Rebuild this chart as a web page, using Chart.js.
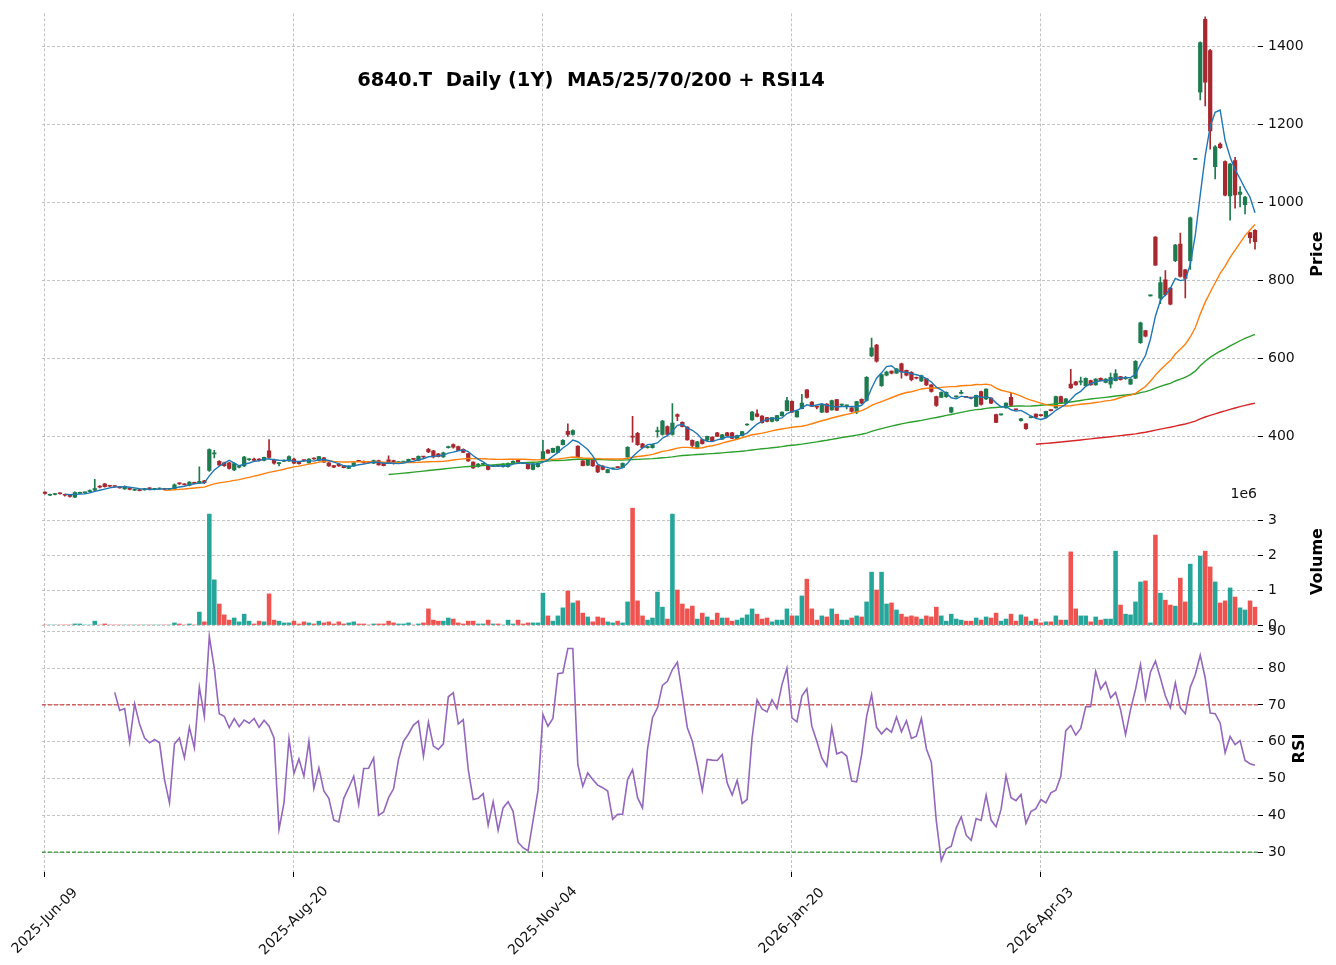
<!DOCTYPE html>
<html><head><meta charset="utf-8">
<script src="https://cdn.jsdelivr.net/npm/chart.js@4.4.1/dist/chart.umd.min.js"></script>
<style>
html,body{margin:0;padding:0;background:#fff;}
#wrap{position:relative;width:1336px;height:965px;background:#fff;}
canvas{position:absolute;left:0;top:0;}
</style></head><body>
<div id="wrap">
<canvas id="cPrice" width="1336" height="965"></canvas>
<canvas id="cVol" width="1336" height="965"></canvas>
<canvas id="cRsi" width="1336" height="965"></canvas>
</div>
<script>
// ---------- DATA ----------
const tickIndex  = [0, 50, 100, 150, 200];
const tickLabels = ['2025-Jun-09', '2025-Aug-20', '2025-Nov-04', '2026-Jan-20', '2026-Apr-03'];
const priceTicks = [400, 600, 800, 1000, 1200, 1400];
const volTicks   = [0, 1, 2, 3];            // x 1e6
const rsiTicks   = [30, 40, 50, 60, 70, 80, 90];

const opens = [
257,249,251,254,251,248,244,254,255,258, 262,272,278,272.5,272,270,265,266,262,263,
263,268,264,265,266,264,266,280,278,274, 282,280,286,313,355,336,332,332,314,321,
324,340,342,341,338,363,340,330,336,337, 342,334,338.5,332,343,338,345,332,325,329,
325,318,324,337,336,333.5,331,338,331,340, 338,333,334,334,342,338,348,367,363,355,
347,371,379,374,367,356,334,322,328,326, 323,325,322,322,331,339,332,329,315,322,
343,365,359,359,379,413,405,375,337,326, 339,325,324,307,317,321,320,347,401,408,
381,371,371,412,405,425,405,456,436,424, 390,371,392,390,398,409,393,409,409,395,
402,429,442,458,452,448,438,440,453,466, 490,450,471,519,488,476,462,483,468,494,
480,478,473,462,495,492,606,634,530,557, 567,562,586,569,564,551,542,548,532,502,
500,502,462,501,510,501,499,477,515,496, 498,456,455,473,500,469,440,432,448,457,
454,449,467,473,502,485,534,540,539,530, 543,532,549,538,534,543,553,548,534,549,
640,671,760,911,754,801,780,850,893,827, 850,1110,1282,1469,1389,1091,1149,1104,1016,1107,
1020,994,922,928];
const highs = [
258,252,254,255,252,249,258,257,257,263, 290,274,279,273,273,271,273,267,265,264,
267,269,267,268,267,267,278,281,279,284, 283,322,287,368,364,338,334,334,332,325,
349,343,344,343,347,392,342,333,340,350, 344,335,339,343,345,349,346,333,326,330,
326,325,333,338,337,334,339,339,332,350, 339,335,336,342,343,350,349,369,364,356,
360,375,381,375,368,357,335,330,330,327, 325,326,330,332,337,340,333,330,330,332,
390,366,370,375,392,432,417,376,338,340, 340,326,325,316,319,322,332,374,451,410,
382,375,380,424,441,427,484,458,437,425, 391,387,393,401,399,410,405,410,410,403,
413,432,464,468,453,449,449,454,463,500, 491,466,508,520,489,477,482,484,493,495,
483,480,474,490,496,553,652,636,560,567, 568,574,588,570,566,552,557,549,533,503,
514,514,475,503,518,502,500,506,516,522, 499,457,457,486,510,470,446,433,450,458,
455,465,468,503,503,497,572,541,552,550, 544,548,550,548,562,571,554,554,548,594,
693,672,762,912,808,825,782,892,921,828, 962,1112,1411,1475,1392,1145,1152,1106,1100,1115,
1040,1015,923,930];
const lows = [
252,248,250,252,247,244,242,253,254,257, 261,268,270,271,270,267,264,263,261,260,
262,263,263,264,263,263,265,277,275,273, 278,279,279,310,345,325,323,316,312,319,
322,338,336,337,337,344,329,324,335,336, 330,329,336,331,341,337,333,323,320,323,
319,317,323,335,331,332,330,326,324,334, 329,332,333,333,340,337,345,358,345,347,
346,370,370,363,358,336,318,321,327,314, 322,323,321,321,330,333,330,316,314,321,
342,356,358,358,378,400,403,345,324,325, 323,307,314,306,316,319,319,346,385,377,
370,370,370,398,403,403,403,440,424,390, 372,370,380,389,387,399,392,401,394,394,
401,428,441,450,434,437,437,439,452,465, 461,449,470,498,476,470,461,461,467,466,
478,470,462,458,484,490,604,590,528,555, 560,561,549,555,542,547,540,530,513,477,
499,500,460,500,509,499,496,476,480,494, 484,435,454,472,478,467,439,418,447,448,
452,448,465,472,484,484,523,531,532,529, 531,531,542,537,524,542,544,546,533,548,
638,655,759,838,740,760,737,848,808,755, 828,1109,1262,1247,1136,1060,1138,1016,954,985,
988,970,895,880];
const closes = [
254,251,253,253,249,246,256,256,256,261, 266,270,271,272,271.5,268,272,264,264,261,
266,264,266,267,264,266,276,278,276,283, 279,285,281,366,358,327,325,318,330,323,
347,341,338,339,346,346,331,331,338,348, 331,330,338,342,342,348,334,324,321,324,
320,324,332,336,332,333,338,327,325,335, 330,334,335,341,341,349,347,360,347,348,
358,373,372,364,359,337,319,329,329,315, 324,324,329,331,336,334,331,317,329,331,
361,357,369,374,390,405,415,347,325,339, 324,309,315,315,318,320,331,372,398,379,
371,374,379,413,439,405,434,451,425,391, 377,386,381,400,388,400,404,402,395,402,
412,431,462,451,435,438,448,453,462,492, 462,465,485,500,477,475,481,462,492,467,
481,479,464,489,485,551,627,593,558,565, 562,573,565,557,545,549,556,532,515,479,
513,513,474,502,513,500,498,505,482,521, 485,436,456,485,479,468,445,420,449,449,
453,464,466,502,485,496,524,532,540,549, 532,547,543,547,551,561,545,549,547,592,
691,657,761,839,794,763,739,890,810,805, 960,1111,1409,1308,1183,1142,1140,1018,1098,1019,
1026,1013,909,899];
// volume in millions (axis offset label "1e6")
const volumes = [
0,0,0,0,0,0,0.03,0.03,0,0, 0.11,0,0.03,0,0,0,0,0,0,0,
0,0,0,0,0,0,0.06,0.03,0,0.03, 0,0.37,0.09,3.17,1.29,0.6,0.29,0.14,0.2,0.09,
0.31,0.11,0.03,0.11,0.09,0.89,0.14,0.11,0.06,0.06, 0.11,0.03,0.09,0.06,0.03,0.11,0.06,0.09,0.03,0.09,
0.03,0.06,0.09,0.03,0.03,0,0.03,0.03,0.03,0.11, 0.06,0.03,0.03,0.06,0,0.03,0.06,0.46,0.14,0.11,
0.11,0.2,0.17,0.06,0.03,0.11,0.11,0.03,0.03,0.14, 0.03,0.03,0,0.14,0.03,0.14,0.03,0.06,0.06,0.06,
0.91,0.26,0.11,0.26,0.49,0.97,0.63,0.69,0.34,0.23, 0.09,0.23,0.2,0.09,0.06,0.11,0.06,0.66,3.34,0.69,
0.26,0.14,0.2,0.94,0.51,0.17,3.17,1.0,0.6,0.46, 0.54,0.17,0.34,0.23,0.14,0.34,0.2,0.2,0.11,0.14,
0.2,0.29,0.46,0.31,0.17,0.2,0.09,0.14,0.14,0.46, 0.26,0.26,0.83,1.31,0.46,0.14,0.26,0.23,0.46,0.31,
0.14,0.14,0.2,0.26,0.23,0.66,1.51,1.0,1.51,0.6, 0.63,0.43,0.31,0.23,0.26,0.23,0.17,0.26,0.23,0.51,
0.26,0.11,0.31,0.17,0.14,0.11,0.11,0.2,0.14,0.23, 0.2,0.34,0.11,0.17,0.31,0.11,0.29,0.23,0.11,0.17,
0.06,0.09,0.09,0.26,0.14,0.14,2.09,0.46,0.26,0.26, 0.09,0.23,0.14,0.17,0.17,2.11,0.57,0.31,0.29,0.66,
1.23,1.26,0.06,2.57,0.91,0.71,0.57,0.54,1.34,0.66, 1.74,0.06,1.97,2.11,1.66,1.23,0.63,0.69,1.06,0.8,
0.49,0.43,0.69,0.51];
// RSI(14), first 14 bars undefined
const rsi = [
null,null,null,null,null,null,null,null,null,null, null,null,null,null,
73.4,68.5,69.0,59.9,70.3,64.7,61.0,59.7,60.6,59.7,
49.7,43.4,59.4,61.0,55.6,63.9,58.3,74.8,66.9,88.6,
80.0,67.6,66.9,63.8,66.3,64.1,65.9,65.0,66.3,63.9,
65.8,64.2,61.0,36.2,43.4,60.8,51.4,55.3,50.6,60.1,
47.3,52.9,46.6,44.6,38.7,38.2,44.6,47.5,50.6,42.9,
52.7,52.8,55.6,40.0,40.9,44.8,47.2,55.2,60.1,62.1,
64.5,65.6,56.1,65.3,58.8,57.9,59.4,72.2,73.3,64.8,
66.0,52.4,44.3,44.6,45.9,37.3,43.7,35.9,42.0,43.7,
41.1,32.7,31.2,30.3,38.4,46.7,67.4,64.2,66.3,78.5,
78.7,85.3,85.3,53.8,47.9,51.5,49.7,48.2,47.5,46.6,
38.9,40.3,40.3,49.7,52.4,44.8,42.0,58.0,66.5,69.2,
75.3,76.4,79.6,81.6,72.8,63.8,60.1,53.8,46.7,55.2,
55.0,54.9,56.5,48.8,45.5,49.5,43.2,44.3,61.0,71.4,
68.9,68.1,71.4,69.0,75.5,80.0,66.5,65.4,72.4,74.4,
64.2,60.1,55.6,53.3,63.9,56.7,57.2,56.1,49.3,49.1,
56.5,66.9,72.8,63.9,62.1,63.6,62.6,66.7,62.7,65.7,
60.9,61.5,66.3,58.1,54.4,38.4,27.7,30.9,31.6,36.6,
39.6,34.6,33.2,39.1,38.6,45.5,38.7,36.9,41.6,50.8,
44.8,44.0,45.7,37.8,41.0,41.8,44.3,43.4,46.1,46.8,
50.6,63.0,64.4,61.8,63.6,69.5,69.5,79.1,74.3,76.2,
71.9,73.4,68.7,61.9,68.7,74.2,81.0,71.6,78.9,81.9,
77.3,72.4,69.2,76.0,69.2,67.6,74.8,78.2,83.5,77.3,
67.8,67.6,65.1,57.0,61.4,59.2,60.3,54.9,54.0,53.6];
const maPeriods = [5, 25, 70, 200];
const rsiLevels = [70, 30];

// ---------- LAYOUT / STYLE ----------
const W = 1336, H = 965;
const PLOT_L = 42, PLOT_R = 1258;
const P_TOP = 10, P_BOT = 498, V_BOT = 625, R_BOT = 872;
const X_MIN = -0.6, X_MAX = 243.6;
const UP = '#1e7b4f', DOWN = '#a8282f';
const VUP = '#26a69a', VDOWN = '#ef5350';
const MA_COLORS = ['#1f77b4', '#ff7f0e', '#2ca02c', '#d62728'];
const GRID = '#b4b4b4';
const FONT = 'DejaVu Sans';
Chart.defaults.font.family = FONT;
Chart.defaults.color = '#000';

function sma(arr, n) {
  const out = [];
  for (let i = 0; i < arr.length; i++) {
    if (i < n - 1) { out.push(null); continue; }
    let s = 0; for (let k = i - n + 1; k <= i; k++) s += arr[k];
    out.push(s / n);
  }
  return out;
}
const pts = arr => arr.map((v, i) => ({x: i, y: v}));
const isUp = closes.map((c, i) => c >= opens[i]);

function xScale(bottomHeight) {
  return {
    type: 'linear', min: X_MIN, max: X_MAX, offset: false,
    afterBuildTicks: s => { s.ticks = tickIndex.map(v => ({value: v})); },
    afterFit: s => { s.height = bottomHeight; },
    ticks: {display: false},
    grid: {color: GRID, lineWidth: 0.8, offset: false, drawTicks: bottomHeight > 0, tickLength: 5,
           tickColor: '#000', tickWidth: 1, tickBorderDash: []},
    border: {display: false, dash: [3, 2]}
  };
}
function yScale(min, max, ticks) {
  return {
    type: 'linear', position: 'right', min: min, max: max,
    afterBuildTicks: s => { s.ticks = ticks.map(v => ({value: v})); },
    afterFit: s => { s.width = W - PLOT_R; },
    ticks: {font: {size: 14}, color: '#111', padding: 5, callback: v => String(v)},
    grid: {color: GRID, lineWidth: 0.8, tickLength: 5, tickColor: '#000', tickWidth: 1, tickBorderDash: []},
    border: {display: false, dash: [3, 2]}
  };
}
function vText(ctx, txt, x, y, size) {
  ctx.save();
  ctx.translate(x, y); ctx.rotate(-Math.PI / 2);
  ctx.font = 'bold ' + size + 'px ' + FONT;
  ctx.fillStyle = '#000'; ctx.textAlign = 'center'; ctx.textBaseline = 'middle';
  ctx.fillText(txt, 0, 0);
  ctx.restore();
}
const baseOpts = (pad) => ({
  responsive: false, animation: false, devicePixelRatio: 1,
  layout: {padding: pad},
  plugins: {legend: {display: false}, tooltip: {enabled: false}, title: {display: false}},
  events: []
});

// ---------- PRICE PANEL ----------
const maDatasets = maPeriods.map((p, k) => ({
  type: 'line', data: pts(sma(closes, p)), borderColor: MA_COLORS[k], borderWidth: 1.4,
  pointRadius: 0, tension: 0, order: 0, spanGaps: false
}));
new Chart(document.getElementById('cPrice'), {
  type: 'bar',
  data: {datasets: [
    ...maDatasets,
    {type: 'bar', data: closes.map((c, i) => ({x: i, y: [opens[i], c]})),
     backgroundColor: isUp.map(u => u ? UP : DOWN), barThickness: 3.6, minBarLength: 1,
     grouped: false, order: 1},
    {type: 'bar', data: highs.map((h, i) => ({x: i, y: [lows[i], h]})),
     backgroundColor: isUp.map(u => u ? UP : DOWN), barThickness: 1, minBarLength: 1,
     grouped: false, order: 2}
  ]},
  options: Object.assign(baseOpts({left: PLOT_L, top: P_TOP, right: 0, bottom: H - P_BOT}), {
    scales: {x: xScale(0), y: yScale(242, 1484, priceTicks)}
  }),
  plugins: [{id: 'priceText', afterDraw(chart) {
    const ctx = chart.ctx;
    ctx.save();
    ctx.font = 'bold 19.5px ' + FONT; ctx.fillStyle = '#000';
    ctx.textAlign = 'center'; ctx.textBaseline = 'middle';
    ctx.fillText('6840.T  Daily (1Y)  MA5/25/70/200 + RSI14', 591, 81);
    ctx.restore();
    vText(ctx, 'Price', 1318, (P_TOP + P_BOT) / 2, 16);
  }}]
});

// ---------- VOLUME PANEL ----------
new Chart(document.getElementById('cVol'), {
  type: 'bar',
  data: {datasets: [
    {data: volumes.map((v, i) => ({x: i, y: v})), backgroundColor: isUp.map(u => u ? VUP : VDOWN),
     barThickness: 3.9, grouped: false}
  ]},
  options: Object.assign(baseOpts({left: PLOT_L, top: P_BOT, right: 0, bottom: H - V_BOT}), {
    scales: {x: xScale(0), y: yScale(0, 3.63, volTicks)}
  }),
  plugins: [{id: 'volText', afterDraw(chart) {
    const ctx = chart.ctx;
    ctx.save();
    ctx.font = '14px ' + FONT; ctx.fillStyle = '#111';
    ctx.textAlign = 'right'; ctx.textBaseline = 'middle';
    ctx.fillText('1e6', 1257, 494);
    ctx.restore();
    vText(ctx, 'Volume', 1318, (P_BOT + V_BOT) / 2, 16);
  }}]
});

// ---------- RSI PANEL ----------
new Chart(document.getElementById('cRsi'), {
  type: 'line',
  data: {datasets: [
    {data: pts(rsi), borderColor: '#9467bd', borderWidth: 1.6, pointRadius: 0, tension: 0, order: 0},
    {data: [{x: X_MIN, y: rsiLevels[0]}, {x: X_MAX, y: rsiLevels[0]}], borderColor: '#c81e1e',
     borderWidth: 1, borderDash: [4, 2], pointRadius: 0, order: 1},
    {data: [{x: X_MIN, y: rsiLevels[1]}, {x: X_MAX, y: rsiLevels[1]}], borderColor: '#008000',
     borderWidth: 1, borderDash: [4, 2], pointRadius: 0, order: 1}
  ]},
  options: Object.assign(baseOpts({left: PLOT_L, top: V_BOT, right: 0, bottom: 0}), {
    scales: {x: xScale(H - R_BOT), y: yScale(24.6, 91.7, rsiTicks)}
  }),
  plugins: [{id: 'rsiText', afterDraw(chart) {
    const ctx = chart.ctx, xs = chart.scales.x;
    ctx.save();
    ctx.font = '14px ' + FONT; ctx.fillStyle = '#111';
    ctx.textAlign = 'center'; ctx.textBaseline = 'middle';
    tickIndex.forEach((v, k) => {
      const px = xs.getPixelForValue(v);
      ctx.save(); ctx.translate(px, 921); ctx.rotate(-Math.PI / 4);
      ctx.fillText(tickLabels[k], 0, 0); ctx.restore();
    });
    ctx.restore();
    vText(ctx, 'RSI', 1300, (V_BOT + R_BOT) / 2, 16);
  }}]
});
</script>
</body></html>
